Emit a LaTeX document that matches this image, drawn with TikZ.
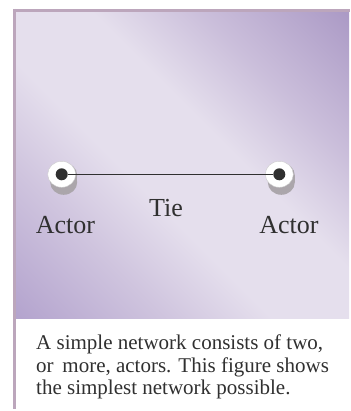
\documentclass[tikz,border=0pt]{standalone}
\usepackage{fontspec}
\setmainfont{Liberation Serif}
\definecolor{bgdarkA}{HTML}{B4A4CE}
\definecolor{bgdarkB}{HTML}{AC9BC6}
\definecolor{bgmidA}{HTML}{CFC4DE}
\definecolor{bgmidB}{HTML}{CBBFDB}
\definecolor{bglight}{HTML}{E5DFED}
\definecolor{framecol}{HTML}{BCA6BC}
\definecolor{inkcol}{HTML}{303030}
\definecolor{shadowcol}{HTML}{ABA6AB}
\pgfdeclareverticalshading{bgshade}{100bp}{color(0bp)=(bgdarkA); color(15bp)=(bgdarkA); color(31bp)=(bgmidA); color(43bp)=(bglight); color(57bp)=(bglight); color(69bp)=(bgmidB); color(85bp)=(bgdarkB); color(100bp)=(bgdarkB)}
\tikzset{
  lbl/.style={font=\fontsize{26}{28}\selectfont, text=inkcol, anchor=base, inner sep=0pt},
  captext/.style={font=\fontsize{21}{22.5}\selectfont, text=inkcol, anchor=north west, inner sep=0pt, align=left},
  actordot/.style={circle, fill=inkcol, minimum size=12pt, inner sep=0pt},
}
\newcommand{\actordisk}[1]{%
  \fill[shadowcol] ($(#1)+(2,1)$) circle [x radius=13.5, y radius=12.5];
  \fill[shadowcol] ($(#1)+(2,8)$) circle [x radius=13.5, y radius=12.5];
  \fill[shadowcol] ($(#1)+(-11.5,1)$) rectangle ($(#1)+(15.5,8)$);
  \fill[white] (#1) circle [x radius=14, y radius=13];
  \draw[gray!40, line width=0.4pt] (#1) circle [x radius=14, y radius=13];
}
\usetikzlibrary{calc}
\begin{document}
\begin{tikzpicture}[x=1pt,y=-1pt]
\useasboundingbox (0,0) rectangle (350,411);
\fill[white] (0,0) rectangle (350,411);
\shade[shading=bgshade, shading angle=-45] (15,12) rectangle (349,318);
\draw[framecol, line width=3pt] (13,10.5) -- (350,10.5);
\draw[framecol, line width=3pt] (14,9) -- (14,409);
\coordinate (a1) at (61.7,174.3);
\coordinate (a2) at (279.3,174.3);
\actordisk{a1}
\actordisk{a2}
\node[actordot] (d1) at (a1) {};
\node[actordot] (d2) at (a2) {};
\draw[inkcol, line width=1.4pt] (d1) -- (d2);
\node[lbl] (tie) at (166,216) {Tie};
\node[lbl] (act1) at (65.5,233) {Actor};
\node[lbl] (act2) at (289,233) {Actor};
\node[captext] (cap) at (36,335) {A simple network consists of two,\\or \,more, actors. This figure shows\\the simplest network possible.};
\end{tikzpicture}
\end{document}
